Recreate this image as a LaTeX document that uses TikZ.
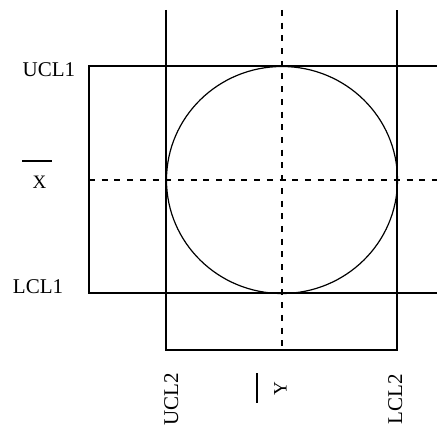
\documentclass[tikz,border=0pt]{standalone}
\usepackage{fontspec}
\setmainfont{Liberation Serif}
\begin{document}
\begin{tikzpicture}[x=1pt,y=-1pt,
  solidline/.style={line width=1.2pt},
  dashline/.style={line width=1.5pt,dash pattern=on 6pt off 6.7pt},
  lab/.style={inner sep=0pt,font=\fontsize{21}{24}\selectfont},
  letlab/.style={inner sep=0pt,font=\fontsize{19}{22}\selectfont}]
\useasboundingbox (0,0) rectangle (437,428);
% coordinates
\coordinate (tl) at (89,66);
\coordinate (bl) at (89,293);
\coordinate (tr) at (437,66);
\coordinate (br) at (437,293);
\coordinate (v1t) at (166,10);
\coordinate (v1b) at (166,350);
\coordinate (v2t) at (397,10);
\coordinate (v2b) at (397,350);
\coordinate (dvt) at (282,10);
\coordinate (dvb) at (282,350);
\coordinate (dhl) at (89,180);
\coordinate (dhr) at (437,180);
\coordinate (c) at (282,180);
% solid lines
\draw[solidline] (tr) -- (tl) -- (bl) -- (br);
\draw[solidline] (v1t) -- (v1b) -- (v2b) -- (v2t);
% dashed lines
\draw[dashline] (dvt) -- (dvb);
\draw[dashline] (dhl) -- (dhr);
% ellipse
\draw[solidline] (c) ellipse [x radius=115.5, y radius=113.5];
% labels
\node[lab,anchor=base] (ucl1) at (49,77) {UCL1};
\node[lab,anchor=base] (lcl1) at (38,293) {LCL1};
\node[letlab,anchor=base] (xlab) at (39.5,188) {X};
\coordinate (xb1) at (22,161);
\coordinate (xb2) at (52,161);
\draw[solidline] (xb1) -- (xb2);
\node[lab,anchor=base,rotate=90] (ucl2) at (178,399) {UCL2};
\node[lab,anchor=base,rotate=90] (lcl2) at (402,399) {LCL2};
\node[letlab,anchor=base,rotate=90] (ylab) at (286.5,389) {Y};
\coordinate (yb1) at (257,373);
\coordinate (yb2) at (257,403);
\draw[solidline] (yb1) -- (yb2);
\end{tikzpicture}
\end{document}
